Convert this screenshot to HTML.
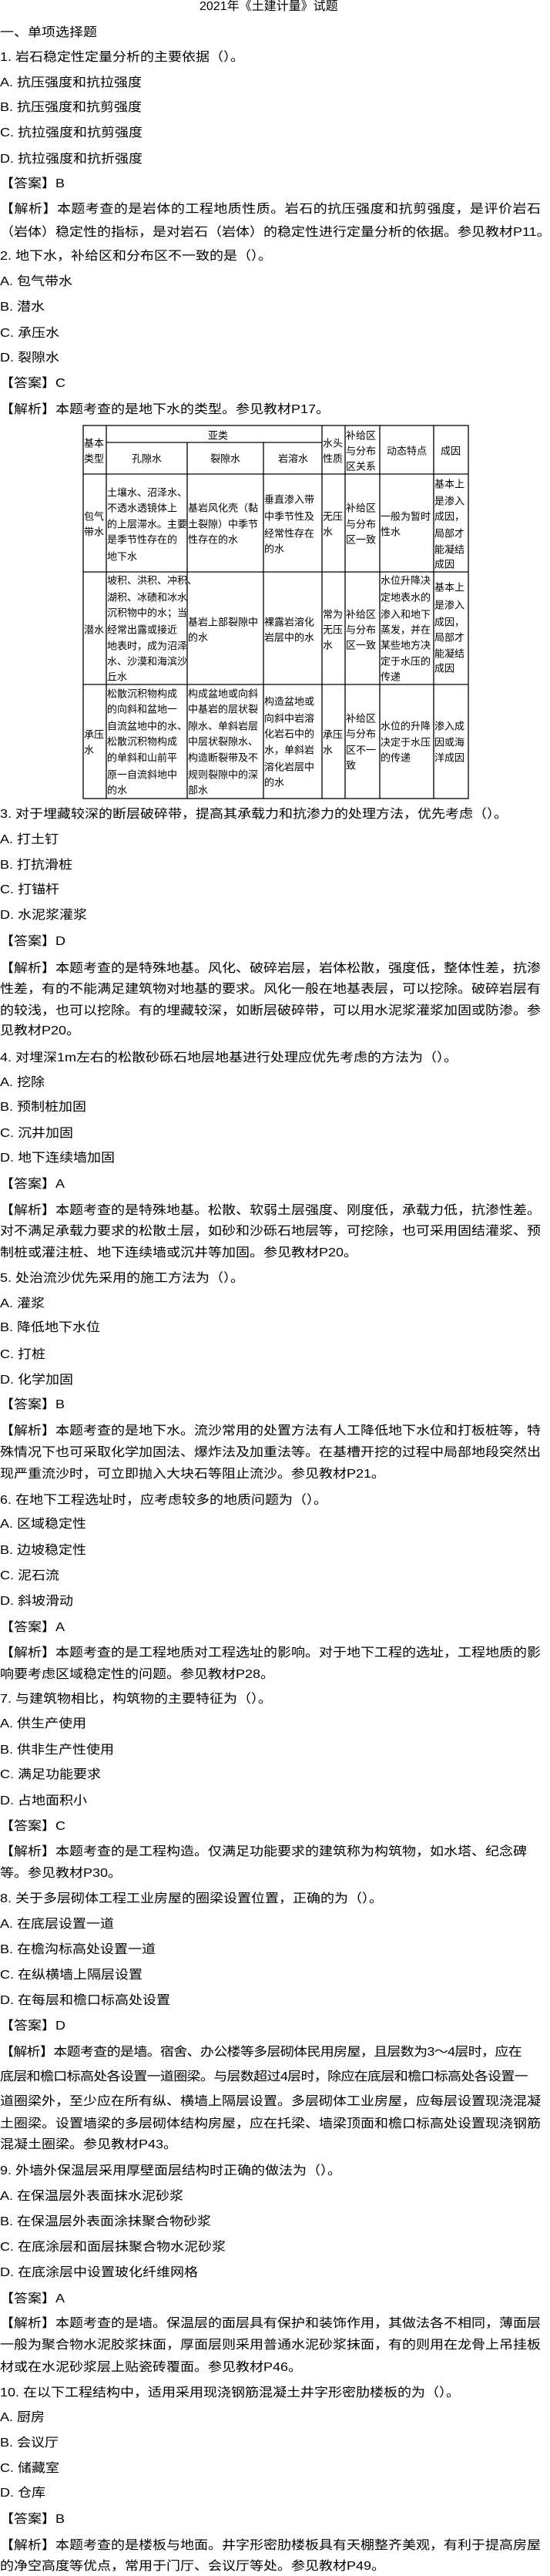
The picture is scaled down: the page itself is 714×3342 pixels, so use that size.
<!DOCTYPE html>
<html lang="zh">
<head>
<meta charset="utf-8">
<style>
html,body{margin:0;padding:0;background:#fff;}
body{width:714px;height:3339px;position:relative;overflow:hidden;color:#000;
font-family:"Liberation Sans","Noto Sans CJK SC","WenQuanYi Zen Hei",sans-serif;}
.l{position:absolute;left:0;height:24px;line-height:24px;margin-top:-12px;font-size:16px;
transform:scaleX(1.125);transform-origin:0 0;white-space:nowrap;}
.j{width:624px;white-space:normal;text-align:justify;text-align-last:justify;}
.s{letter-spacing:-0.6px;}
svg text{font-family:"Liberation Sans","Noto Sans CJK SC",sans-serif;font-size:13px;}
</style>
</head>
<body>
<div class="l" style="top:9px;left:259px;transform:none">2021年《土建计量》试题</div>
<div class="l" style="top:43px">一、单项选择题</div>
<div class="l" style="top:75px">1. 岩石稳定性定量分析的主要依据（）。</div>
<div class="l" style="top:108px">A. 抗压强度和抗拉强度</div>
<div class="l" style="top:140px">B. 抗压强度和抗剪强度</div>
<div class="l" style="top:173px">C. 抗拉强度和抗剪强度</div>
<div class="l" style="top:207px">D. 抗拉强度和抗折强度</div>
<div class="l" style="top:239px">【答案】B</div>
<div class="l j" style="top:272px">【解析】本题考查的是岩体的工程地质性质。岩石的抗压强度和抗剪强度，是评价岩石</div>
<div class="l" style="top:302px">（岩体）稳定性的指标，是对岩石（岩体）的稳定性进行定量分析的依据。参见教材P11。</div>
<div class="l" style="top:333px">2. 地下水，补给区和分布区不一致的是（）。</div>
<div class="l" style="top:366px">A. 包气带水</div>
<div class="l" style="top:399px">B. 潜水</div>
<div class="l" style="top:433px">C. 承压水</div>
<div class="l" style="top:465px">D. 裂隙水</div>
<div class="l" style="top:498px">【答案】C</div>
<div class="l" style="top:532px">【解析】本题考查的是地下水的类型。参见教材P17。</div>

<svg style="position:absolute;left:0;top:0" width="714" height="1100">
<g stroke="#000" stroke-width="1.3" fill="none">
<rect x="108" y="552" width="500" height="484"/>
<line x1="138" y1="574" x2="418" y2="574"/>
<line x1="108" y1="615" x2="608" y2="615"/>
<line x1="108" y1="742" x2="608" y2="742"/>
<line x1="108" y1="888" x2="608" y2="888"/>
<line x1="138" y1="552" x2="138" y2="1036"/>
<line x1="243" y1="574" x2="243" y2="1036"/>
<line x1="342" y1="574" x2="342" y2="1036"/>
<line x1="418" y1="552" x2="418" y2="1036"/>
<line x1="448" y1="552" x2="448" y2="1036"/>
<line x1="493" y1="552" x2="493" y2="1036"/>
<line x1="563" y1="552" x2="563" y2="1036"/>
</g>
<g fill="#000" dominant-baseline="central">
<text x="270" y="565">亚类</text>
<text x="109" y="575">基本</text><text x="109" y="595">类型</text>
<text x="171" y="595">孔隙水</text><text x="273" y="595">裂隙水</text><text x="361" y="595">岩溶水</text>
<text x="419" y="575">水头</text><text x="419" y="595">性质</text>
<text x="449" y="565">补给区</text><text x="449" y="585">与分布</text><text x="449" y="605">区关系</text>
<text x="502" y="585">动态特点</text><text x="572" y="585">成因</text>

<text x="109" y="670">包气</text><text x="109" y="690">带水</text>
<text x="139" y="639">土壤水、沼泽水、</text><text x="139" y="659">不透水透镜体上</text><text x="139" y="680">的上层滞水。主要</text><text x="139" y="700">是季节性存在的</text><text x="139" y="722">地下水</text>
<text x="244" y="659">基岩风化壳（黏</text><text x="244" y="680">土裂隙）中季节</text><text x="244" y="700">性存在的水</text>
<text x="343" y="648">垂直渗入带</text><text x="343" y="670">中季节性及</text><text x="343" y="692">经常性存在</text><text x="343" y="712">的水</text>
<text x="419" y="670">无压</text><text x="419" y="690">水</text>
<text x="449" y="659">补给区</text><text x="449" y="680">与分布</text><text x="449" y="700">区一致</text>
<text x="494" y="670">一般为暂时</text><text x="494" y="690">性水</text>
<text x="564" y="628">基本上</text><text x="564" y="650">是渗入</text><text x="564" y="670">成因，</text><text x="564" y="692">局部才</text><text x="564" y="713">能凝结</text><text x="564" y="732">成因</text>

<text x="109" y="817">潜水</text>
<text x="139" y="753">坡积、洪积、冲积、</text><text x="139" y="775">湖积、冰碛和冰水</text><text x="139" y="795">沉积物中的水；当</text><text x="139" y="817">经常出露或接近</text><text x="139" y="838">地表时，成为沼泽</text><text x="139" y="858">水、沙漠和海滨沙</text><text x="139" y="878">丘水</text>
<text x="244" y="807">基岩上部裂隙中</text><text x="244" y="827">的水</text>
<text x="343" y="807">裸露岩溶化</text><text x="343" y="827">岩层中的水</text>
<text x="419" y="797">常为</text><text x="419" y="817">无压</text><text x="419" y="837">水</text>
<text x="449" y="797">补给区</text><text x="449" y="817">与分布</text><text x="449" y="837">区一致</text>
<text x="494" y="753">水位升降决</text><text x="494" y="775">定地表水的</text><text x="494" y="797">渗入和地下</text><text x="494" y="817">蒸发，并在</text><text x="494" y="837">某些地方决</text><text x="494" y="858">定于水压的</text><text x="494" y="878">传递</text>
<text x="564" y="762">基本上</text><text x="564" y="785">是渗入</text><text x="564" y="807">成因，</text><text x="564" y="827">局部才</text><text x="564" y="848">能凝结</text><text x="564" y="867">成因</text>

<text x="109" y="953">承压</text><text x="109" y="973">水</text>
<text x="139" y="900">松散沉积物构成</text><text x="139" y="920">的向斜和盆地一</text><text x="139" y="942">自流盆地中的水、</text><text x="139" y="962">松散沉积物构成</text><text x="139" y="983">的单斜和山前平</text><text x="139" y="1005">原一自流斜地中</text><text x="139" y="1025">的水</text>
<text x="244" y="900">构成盆地或向斜</text><text x="244" y="920">中基岩的层状裂</text><text x="244" y="942">隙水、单斜岩层</text><text x="244" y="962">中层状裂隙水、</text><text x="244" y="983">构造断裂带及不</text><text x="244" y="1005">规则裂隙中的深</text><text x="244" y="1025">部水</text>
<text x="343" y="910">构造盆地或</text><text x="343" y="932">向斜中岩溶</text><text x="343" y="952">化岩石中的</text><text x="343" y="973">水，单斜岩</text><text x="343" y="995">溶化岩层中</text><text x="343" y="1015">的水</text>
<text x="419" y="953">承压</text><text x="419" y="973">水</text>
<text x="449" y="932">补给区</text><text x="449" y="952">与分布</text><text x="449" y="973">区不一</text><text x="449" y="993">致</text>
<text x="494" y="942">水位的升降</text><text x="494" y="963">决定于水压</text><text x="494" y="983">的传递</text>
<text x="564" y="942">渗入成</text><text x="564" y="963">因或海</text><text x="564" y="983">洋成因</text>
</g>
</svg>

<div class="l" style="top:1057px">3. 对于埋藏较深的断层破碎带，提高其承载力和抗渗力的处理方法，优先考虑（）。</div>
<div class="l" style="top:1090px">A. 打土钉</div>
<div class="l" style="top:1123px">B. 打抗滑桩</div>
<div class="l" style="top:1155px">C. 打锚杆</div>
<div class="l" style="top:1188px">D. 水泥浆灌浆</div>
<div class="l" style="top:1222px">【答案】D</div>
<div class="l j" style="top:1257px">【解析】本题考查的是特殊地基。风化、破碎岩层，岩体松散，强度低，整体性差，抗渗</div>
<div class="l j" style="top:1284px">性差，有的不能满足建筑物对地基的要求。风化一般在地基表层，可以挖除。破碎岩层有</div>
<div class="l j" style="top:1312px">的较浅，也可以挖除。有的埋藏较深，如断层破碎带，可以用水泥浆灌浆加固或防渗。参</div>
<div class="l" style="top:1338px">见教材P20。</div>
<div class="l" style="top:1373px">4. 对埋深1m左右的松散砂砾石地层地基进行处理应优先考虑的方法为（）。</div>
<div class="l" style="top:1405px">A. 挖除</div>
<div class="l" style="top:1437px">B. 预制桩加固</div>
<div class="l" style="top:1471px">C. 沉井加固</div>
<div class="l" style="top:1503px">D. 地下连续墙加固</div>
<div class="l" style="top:1537px">【答案】A</div>
<div class="l j" style="top:1571px">【解析】本题考查的是特殊地基。松散、软弱土层强度、刚度低，承载力低，抗渗性差。</div>
<div class="l j" style="top:1598px">对不满足承载力要求的松散土层，如砂和沙砾石地层等，可挖除，也可采用固结灌浆、预</div>
<div class="l" style="top:1626px">制桩或灌注桩、地下连续墙或沉井等加固。参见教材P20。</div>
<div class="l" style="top:1659px">5. 处治流沙优先采用的施工方法为（）。</div>
<div class="l" style="top:1692px">A. 灌浆</div>
<div class="l" style="top:1723px">B. 降低地下水位</div>
<div class="l" style="top:1758px">C. 打桩</div>
<div class="l" style="top:1791px">D. 化学加固</div>
<div class="l" style="top:1823px">【答案】B</div>
<div class="l j" style="top:1857px">【解析】本题考查的是地下水。流沙常用的处置方法有人工降低地下水位和打板桩等，特</div>
<div class="l j" style="top:1885px">殊情况下也可采取化学加固法、爆炸法及加重法等。在基槽开挖的过程中局部地段突然出</div>
<div class="l" style="top:1913px">现严重流沙时，可立即抛入大块石等阻止流沙。参见教材P21。</div>
<div class="l" style="top:1947px">6. 在地下工程选址时，应考虑较多的地质问题为（）。</div>
<div class="l" style="top:1978px">A. 区域稳定性</div>
<div class="l" style="top:2012px">B. 边坡稳定性</div>
<div class="l" style="top:2045px">C. 泥石流</div>
<div class="l" style="top:2078px">D. 斜坡滑动</div>
<div class="l" style="top:2112px">【答案】A</div>
<div class="l j" style="top:2145px">【解析】本题考查的是工程地质对工程选址的影响。对于地下工程的选址，工程地质的影</div>
<div class="l" style="top:2173px">响要考虑区域稳定性的问题。参见教材P28。</div>
<div class="l" style="top:2205px">7. 与建筑物相比，构筑物的主要特征为（）。</div>
<div class="l" style="top:2237px">A. 供生产使用</div>
<div class="l" style="top:2271px">B. 供非生产性使用</div>
<div class="l" style="top:2303px">C. 满足功能要求</div>
<div class="l" style="top:2337px">D. 占地面积小</div>
<div class="l" style="top:2370px">【答案】C</div>
<div class="l" style="top:2403px">【解析】本题考查的是工程构造。仅满足功能要求的建筑称为构筑物，如水塔、纪念碑</div>
<div class="l" style="top:2431px">等。参见教材P30。</div>
<div class="l" style="top:2464px">8. 关于多层砌体工程工业房屋的圈梁设置位置，正确的为（）。</div>
<div class="l" style="top:2497px">A. 在底层设置一道</div>
<div class="l" style="top:2530px">B. 在檐沟标高处设置一道</div>
<div class="l" style="top:2563px">C. 在纵横墙上隔层设置</div>
<div class="l" style="top:2596px">D. 在每层和檐口标高处设置</div>
<div class="l" style="top:2629px">【答案】D</div>
<div class="l s" style="top:2663px">【解析】本题考查的是墙。宿舍、办公楼等多层砌体民用房屋，且层数为3～4层时，应在</div>
<div class="l s" style="top:2695px">底层和檐口标高处各设置一道圈梁。与层数超过4层时，除应在底层和檐口标高处各设置一</div>
<div class="l j" style="top:2727px">道圈梁外，至少应在所有纵、横墙上隔层设置。多层砌体工业房屋，应每层设置现浇混凝</div>
<div class="l j" style="top:2756px">土圈梁。设置墙梁的多层砌体结构房屋，应在托梁、墙梁顶面和檐口标高处设置现浇钢筋</div>
<div class="l" style="top:2783px">混凝土圈梁。参见教材P43。</div>
<div class="l" style="top:2817px">9. 外墙外保温层采用厚壁面层结构时正确的做法为（）。</div>
<div class="l" style="top:2850px">A. 在保温层外表面抹水泥砂浆</div>
<div class="l" style="top:2883px">B. 在保温层外表面涂抹聚合物砂浆</div>
<div class="l" style="top:2916px">C. 在底涂层和面层抹聚合物水泥砂浆</div>
<div class="l" style="top:2949px">D. 在底涂层中设置玻化纤维网格</div>
<div class="l" style="top:2983px">【答案】A</div>
<div class="l j" style="top:3015px">【解析】本题考查的是墙。保温层的面层具有保护和装饰作用，其做法各不相同，薄面层</div>
<div class="l j" style="top:3043px">一般为聚合物水泥胶浆抹面，厚面层则采用普通水泥砂浆抹面，有的则用在龙骨上吊挂板</div>
<div class="l" style="top:3072px">材或在水泥砂浆层上贴瓷砖覆面。参见教材P46。</div>
<div class="l" style="top:3105px">10. 在以下工程结构中，适用采用现浇钢筋混凝土井字形密肋楼板的为（）。</div>
<div class="l" style="top:3137px">A. 厨房</div>
<div class="l" style="top:3170px">B. 会议厅</div>
<div class="l" style="top:3203px">C. 储藏室</div>
<div class="l" style="top:3235px">D. 仓库</div>
<div class="l" style="top:3269px">【答案】B</div>
<div class="l j" style="top:3303px">【解析】本题考查的是楼板与地面。井字形密肋楼板具有天棚整齐美观，有利于提高房屋</div>
<div class="l" style="top:3330px">的净空高度等优点，常用于门厅、会议厅等处。参见教材P49。</div>
</body>
</html>
